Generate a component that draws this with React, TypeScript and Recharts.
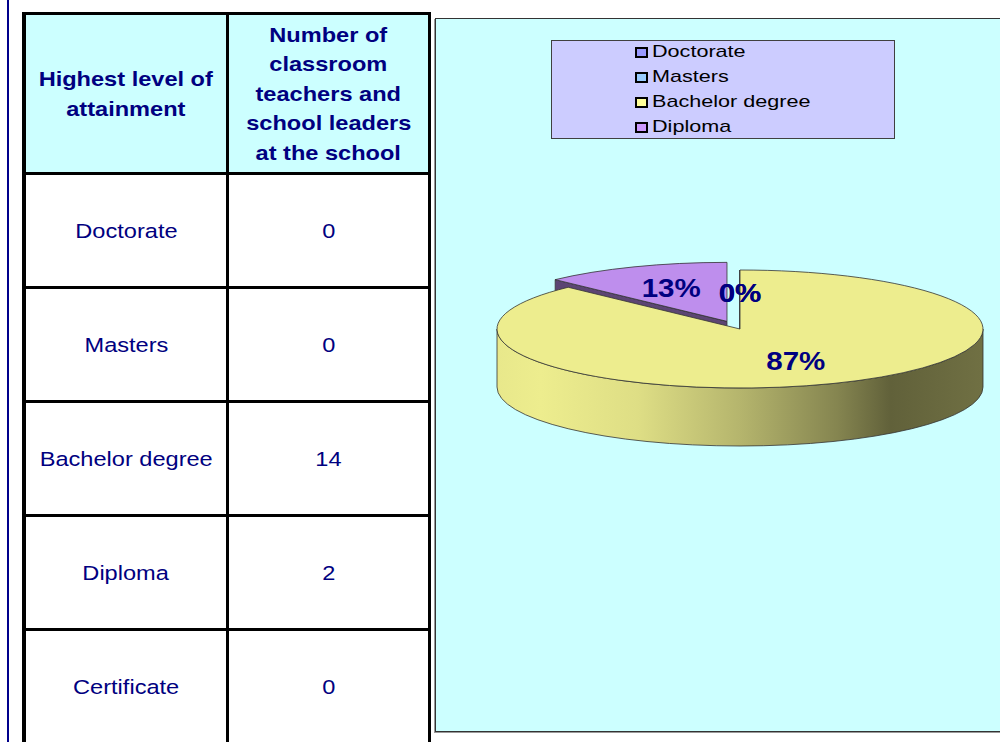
import React from "react";
import { Legend, Pie, PieChart } from "recharts";

// table rows
const categories = ["Doctorate", "Masters", "Bachelor degree", "Diploma", "Certificate"];
const staffCounts = [0, 0, 14, 2, 0];

const headerLeft = ["Highest level of", "attainment"];
const headerRight = ["Number of", "classroom", "teachers and", "school leaders", "at the school"];

// the pie only charts the first four rows
const pieCategories = ["Doctorate", "Masters", "Bachelor degree", "Diploma"];
const pieValues = [0, 0, 14, 2];
const pieColors = ["#9999FF", "#99CCFF", "#FFFF99", "#CC99FF"];
const explodedSlice = "Diploma";

const pieData = pieCategories.map((name, i) => ({ name, value: pieValues[i], fill: pieColors[i] }));

// whole percents that add up to 100 (ties go to the smaller slice)
function roundPercents(values: number[]) {
  const total = values.reduce((a, b) => a + b, 0);
  const raw = values.map((v) => (v / total) * 100);
  const out = raw.map(Math.floor);
  let rest = 100 - out.reduce((a, b) => a + b, 0);
  const order = raw
    .map((_, i) => i)
    .sort((a, b) => raw[b] - out[b] - (raw[a] - out[a]) || values[a] - values[b]);
  for (const i of order) {
    if (rest <= 0) break;
    out[i] += 1;
    rest -= 1;
  }
  return out.map((p) => `${p}%`);
}
const pctLabels = roundPercents(pieValues);

const NAVY = "#000080";
const FONT = '"Liberation Sans", Arial, Helvetica, sans-serif';
const EDGE = "#333333";

// 3d look
const TILT = 59 / 243;
const DEPTH = 58;
const EXPLODE = 34;
const RAD = Math.PI / 180;

function shade(hex: string, f: number) {
  const n = parseInt(hex.slice(1), 16);
  const c = [n >> 16, (n >> 8) & 255, n & 255].map((v) => Math.round(Math.min(255, v * f)));
  return `rgb(${c.join(",")})`;
}

function ept(cx: number, cy: number, r: number, a: number): [number, number] {
  return [cx + r * Math.cos(a * RAD), cy - r * TILT * Math.sin(a * RAD)];
}

function nameOf(p: any): string {
  return p.name ?? p.payload?.name;
}

function sliceCenter(p: any): [number, number] {
  if (nameOf(p) !== explodedSlice) return [p.cx, p.cy];
  return ept(p.cx, p.cy, EXPLODE, p.midAngle);
}

const wallStops: [number, number][] = [
  [0, 0.91],
  [0.09, 0.93],
  [0.29, 0.87],
  [0.5, 0.71],
  [0.7, 0.52],
  [0.81, 0.38],
  [1, 0.44],
];

function WallShape(p: any) {
  const { outerRadius: r, startAngle: s, endAngle: e } = p;
  const i = pieCategories.indexOf(nameOf(p));
  const color = pieColors[i];
  const [x0, y0] = sliceCenter(p);
  if (s - e <= 0) return <g />;

  const face = (a: number) => {
    const [x1, y1] = ept(x0, y0, r, a);
    return `M${x0},${y0}L${x1},${y1}L${x1},${y1 + DEPTH}L${x0},${y0 + DEPTH}Z`;
  };
  const gid = `wall-${i}`;
  const parts: React.ReactNode[] = [];
  if (Math.cos(s * RAD) < -1e-6)
    parts.push(<path key="fs" d={face(s)} fill={shade(color, 0.45)} stroke={EDGE} strokeWidth={0.8} />);
  if (Math.cos(e * RAD) > 1e-6)
    parts.push(<path key="fe" d={face(e)} fill={shade(color, 0.45)} stroke={EDGE} strokeWidth={0.8} />);

  // front half of the rim only
  for (let k = -2; k <= 1; k++) {
    const lo = Math.max(e, -180 + 360 * k);
    const hi = Math.min(s, 360 * k);
    if (hi - lo > 1e-6) {
      const [x1, y1] = ept(x0, y0, r, hi);
      const [x2, y2] = ept(x0, y0, r, lo);
      const ry = r * TILT;
      const large = hi - lo > 180 ? 1 : 0;
      const d =
        `M${x1},${y1}A${r},${ry} 0 ${large} 1 ${x2},${y2}` +
        `L${x2},${y2 + DEPTH}A${r},${ry} 0 ${large} 0 ${x1},${y1 + DEPTH}Z`;
      parts.push(<path key={`w${k}`} d={d} fill={`url(#${gid})`} stroke={EDGE} strokeWidth={0.8} />);
    }
  }

  return (
    <g>
      <defs>
        <linearGradient id={gid} gradientUnits="userSpaceOnUse" x1={x0 - r} x2={x0 + r} y1={0} y2={0}>
          {wallStops.map(([o, f]) => (
            <stop key={o} offset={o} stopColor={shade(color, f)} />
          ))}
        </linearGradient>
      </defs>
      {parts}
    </g>
  );
}

function TopShape(p: any) {
  const { outerRadius: r, startAngle: s, endAngle: e } = p;
  const i = pieCategories.indexOf(nameOf(p));
  const [x0, y0] = sliceCenter(p);
  const [x1, y1] = ept(x0, y0, r, s);
  const [x2, y2] = ept(x0, y0, r, e);
  const large = s - e > 180 ? 1 : 0;
  const d = `M${x0},${y0}L${x1},${y1}A${r},${r * TILT} 0 ${large} 1 ${x2},${y2}Z`;
  return <path d={d} fill={shade(pieColors[i], 0.93)} stroke={EDGE} strokeWidth={0.8} strokeLinejoin="round" />;
}

function renderLabel(p: any) {
  const i = pieCategories.indexOf(nameOf(p));
  const [x0, y0] = sliceCenter(p);
  const [x, y] = ept(x0, y0, p.outerRadius * 0.6, p.midAngle);
  return (
    <text
      key={`lbl-${i}`}
      transform={`translate(${x},${y}) scale(1.18,1)`}
      textAnchor="middle"
      dominantBaseline="central"
      fill={NAVY}
      fontSize={25}
      fontWeight="bold"
      fontFamily={FONT}
    >
      {pctLabels[i]}
    </text>
  );
}

function renderLegend(props: any) {
  const seen = new Set<string>();
  const items = (props.payload || [])
    .filter((it: any) => {
      if (it.type === "none" || seen.has(it.value)) return false;
      seen.add(it.value);
      return true;
    })
    .sort((a: any, b: any) => pieCategories.indexOf(a.value) - pieCategories.indexOf(b.value));
  return (
    <div
      style={{
        width: 344,
        height: 99,
        boxSizing: "border-box",
        background: "#CCCCFF",
        border: "1px solid #404040",
        fontFamily: FONT,
        fontSize: 17,
        color: "#000",
      }}
    >
      <div style={{ position: "relative", top: -1.5 }}>
        {items.map((it: any) => (
          <div key={it.value} style={{ height: 25, display: "flex", alignItems: "center", paddingLeft: 83 }}>
            <span
              style={{
                width: 13,
                height: 11,
                boxSizing: "border-box",
                border: "2px solid #000",
                background: it.color,
                marginRight: 4,
                flex: "none",
              }}
            />
            <span style={{ display: "inline-block", transform: "scaleX(1.27)", transformOrigin: "left center", whiteSpace: "nowrap" }}>
              {it.value}
            </span>
          </div>
        ))}
      </div>
    </div>
  );
}

function Stretch({ children }: { children: React.ReactNode }) {
  return <span style={{ display: "inline-block", transform: "scaleX(1.15)", whiteSpace: "nowrap" }}>{children}</span>;
}

function StaffTable() {
  const cell = (w: number | undefined, last: boolean): React.CSSProperties => ({
    width: w,
    flex: w ? "none" : 1,
    borderRight: last ? undefined : "3px solid #000",
    boxSizing: "border-box",
    display: "flex",
    flexDirection: "column",
    alignItems: "center",
    justifyContent: "center",
    textAlign: "center",
  });
  return (
    <div
      style={{
        position: "absolute",
        left: 22,
        top: 12,
        width: 409,
        borderLeft: "4px solid #000",
        borderTop: "3px solid #000",
        borderRight: "3px solid #000",
        boxSizing: "border-box",
        fontFamily: FONT,
        color: NAVY,
        fontSize: 20.5,
      }}
    >
      <div style={{ display: "flex", height: 160, borderBottom: "3px solid #000", boxSizing: "border-box", background: "#CCFFFF", fontWeight: "bold", lineHeight: "29.5px" }}>
        <div style={cell(203, false)}>
          {headerLeft.map((t) => (
            <Stretch key={t}>{t}</Stretch>
          ))}
        </div>
        <div style={cell(undefined, true)}>
          {headerRight.map((t) => (
            <Stretch key={t}>{t}</Stretch>
          ))}
        </div>
      </div>
      {categories.map((c, i) => (
        <div key={c} style={{ display: "flex", height: 114, borderBottom: "3px solid #000", boxSizing: "border-box", background: "#fff" }}>
          <div style={cell(203, false)}>
            <Stretch>{c}</Stretch>
          </div>
          <div style={cell(undefined, true)}>
            <Stretch>{staffCounts[i]}</Stretch>
          </div>
        </div>
      ))}
    </div>
  );
}

export default function App() {
  return (
    <div style={{ position: "absolute", left: 0, top: 0, width: 1000, height: 742, overflow: "hidden", background: "#fff" }}>
      <div style={{ position: "absolute", left: 7, top: 0, width: 2, height: 742, background: "#00008B" }} />
      <StaffTable />
      <div
        style={{
          position: "absolute",
          left: 435,
          top: 18,
          width: 570,
          height: 714,
          background: "#CCFFFF",
          border: "1px solid #333",
          boxSizing: "border-box",
          boxShadow: "-1px 1px 0 #999",
        }}
      >
        <PieChart width={568} height={712} margin={{ top: 0, right: 0, bottom: 0, left: 0 }}>
          <Pie
            data={pieData}
            dataKey="value"
            nameKey="name"
            cx={304}
            cy={310}
            outerRadius={243}
            startAngle={90}
            endAngle={-270}
            shape={WallShape}
            legendType="none"
            label={false}
            isAnimationActive={false}
          />
          <Pie
            data={pieData}
            dataKey="value"
            nameKey="name"
            cx={304}
            cy={310}
            outerRadius={243}
            startAngle={90}
            endAngle={-270}
            shape={TopShape}
            label={renderLabel}
            labelLine={false}
            isAnimationActive={false}
          />
          <Legend
            layout="vertical"
            align="center"
            verticalAlign="middle"
            itemSorter={null as any}
            wrapperStyle={{ left: 115, top: 21, width: 344 }}
            content={renderLegend}
          />
        </PieChart>
      </div>
    </div>
  );
}
